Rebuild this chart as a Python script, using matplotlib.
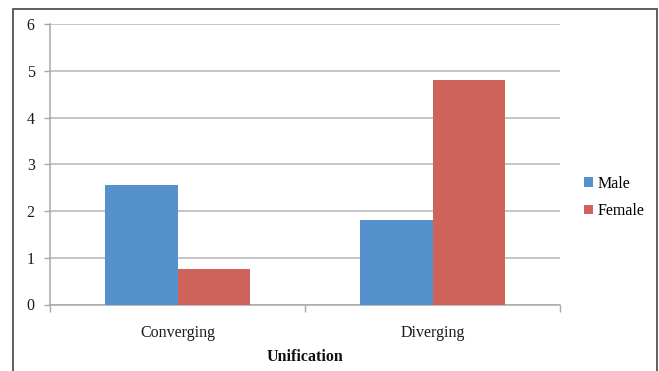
import matplotlib.pyplot as plt
from matplotlib.patches import Rectangle, Patch

# Mean scores by unification type
categories = ["Converging", "Diverging"]
male = [2.56, 1.80]
female = [0.77, 4.80]
series_names = ["Male", "Female"]
colors = ["#5591CC", "#CF625B"]

plt.rcParams['font.family'] = ['Liberation Serif', 'DejaVu Serif']

W, H = 659, 371
fig = plt.figure(figsize=(W / 100, H / 100), dpi=100)
ax = fig.add_axes([50 / W, 1 - 304.5 / H, 510 / W, 280.2 / H])

x = range(len(categories))
w = 0.285
ax.bar([i - w / 2 for i in x], male, width=w, color=colors[0], zorder=3)
ax.bar([i + w / 2 for i in x], female, width=w, color=colors[1], zorder=3)

ax.set_xlim(-0.5, len(categories) - 0.5)
ax.set_ylim(0, 6)
ax.set_yticks(range(0, 7))
ax.yaxis.grid(True, color="#B5B5B5", linewidth=1.1, zorder=0)

# boundary ticks below the axis, category labels centred between them
ax.set_xticks([-0.5, 0.5, 1.5])
ax.set_xticklabels([])
ax.set_xticks(list(x), minor=True)
ax.set_xticklabels(categories, minor=True, fontsize=11.5, color="#1A1A1A")
ax.tick_params(axis="x", which="major", length=5, color="#A8A8A8", width=1)
ax.tick_params(axis="x", which="minor", length=0, pad=14.5)
ax.tick_params(axis="y", length=4, color="#A8A8A8", width=1, labelsize=11.5,
               labelcolor="#1A1A1A", pad=7)

for side in ["top", "right"]:
    ax.spines[side].set_visible(False)
for side in ["left", "bottom"]:
    ax.spines[side].set_color("#A8A8A8")
    ax.spines[side].set_linewidth(1.1)

fig.text(305 / W, 1 - 357 / H, "Unification", ha="center", va="center",
         fontsize=11.5, fontweight="bold", color="#111111")

handles = [Patch(facecolor=c, edgecolor="none") for c in colors]
fig.legend(handles, series_names, loc="center left",
           bbox_to_anchor=(578 / W, 1 - 197.5 / H), frameon=False,
           handlelength=0.55, handleheight=0.55, handletextpad=0.3,
           labelspacing=0.7, fontsize=11.5, borderaxespad=0)

# outer frame
fig.patches.append(Rectangle((13 / W, -0.05), 644 / W, 1 - 9 / H + 0.05,
                             transform=fig.transFigure, fill=False,
                             edgecolor="#444444", linewidth=1.2))

fig.savefig("out.png", dpi=100)
